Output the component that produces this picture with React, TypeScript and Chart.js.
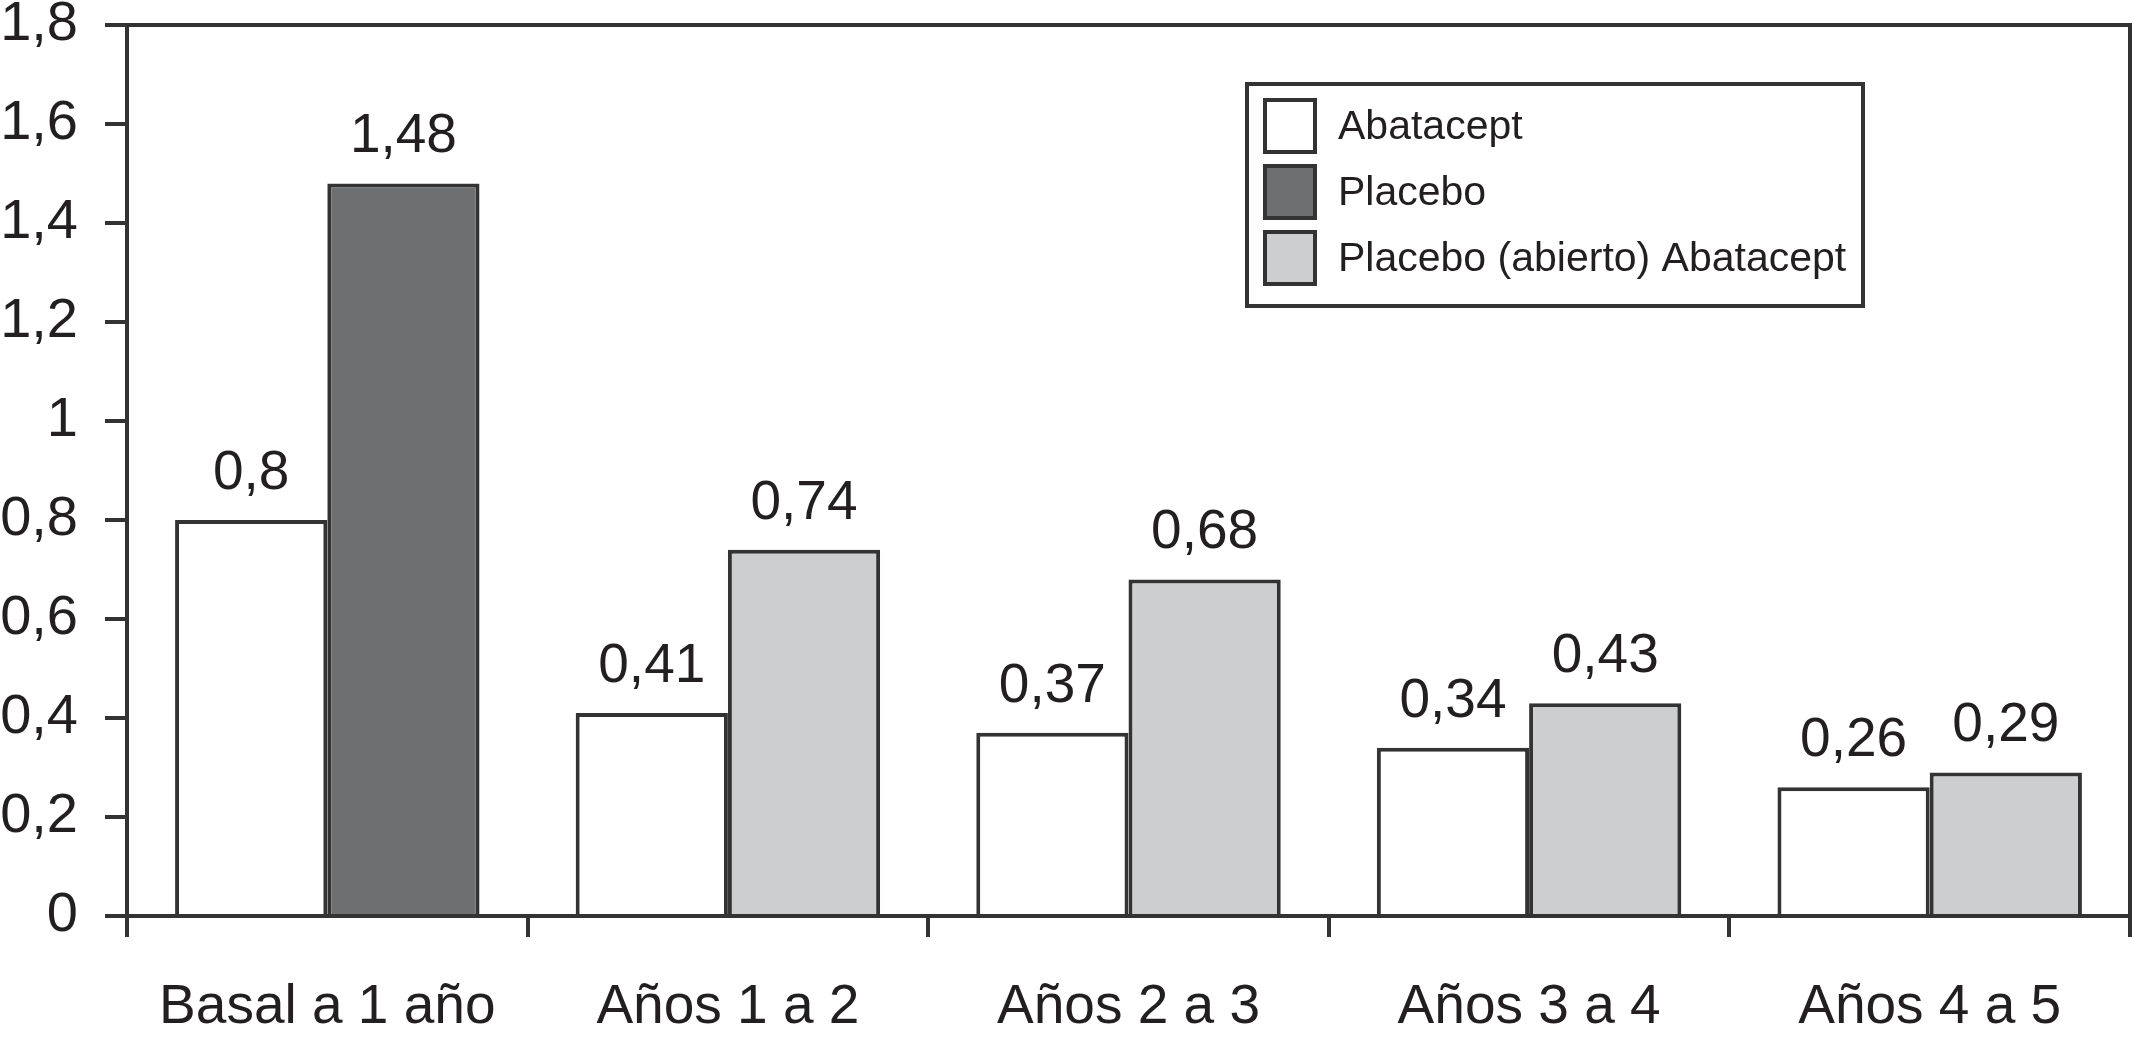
import React, { useEffect, useRef } from "react";
import { Chart, registerables } from "chart.js";

Chart.register(...registerables);

const categories = ["Basal a 1 año", "Años 1 a 2", "Años 2 a 3", "Años 3 a 4", "Años 4 a 5"];
const abatacept = [0.8, 0.41, 0.37, 0.34, 0.26];
const placebo = [1.48, null, null, null, null];
const placeboOpen = [null, 0.74, 0.68, 0.43, 0.29];
const seriesLabels = ["Abatacept", "Placebo", "Placebo (abierto) Abatacept"];
const yTicks = [0, 0.2, 0.4, 0.6, 0.8, 1, 1.2, 1.4, 1.6, 1.8];

const INK = "#231f20";
const LINE = "#333333";
const LW = 4;
const FONT = "'Liberation Sans', Arial, Helvetica, sans-serif";
const fmt = (v: number) => Number(v.toFixed(2)).toString().replace(".", ",");

const framePlugin = {
  id: "frame",
  afterDraw(chart: any) {
    const { ctx, chartArea } = chart;
    ctx.save();
    ctx.strokeStyle = LINE;
    ctx.lineWidth = LW;
    ctx.beginPath();
    ctx.moveTo(chartArea.left, chartArea.top);
    ctx.lineTo(chartArea.right, chartArea.top);
    ctx.lineTo(chartArea.right, chartArea.bottom);
    ctx.stroke();
    ctx.restore();
  },
};

const valueLabelPlugin = {
  id: "valueLabels",
  afterDatasetsDraw(chart: any) {
    const { ctx } = chart;
    ctx.save();
    ctx.fillStyle = INK;
    ctx.font = `55px ${FONT}`;
    ctx.textAlign = "center";
    ctx.textBaseline = "alphabetic";
    chart.data.datasets.forEach((ds: any, di: number) => {
      const meta = chart.getDatasetMeta(di);
      meta.data.forEach((bar: any, i: number) => {
        const v = ds.data[i];
        if (v === null || v === undefined) return;
        ctx.fillText(fmt(v), bar.x, bar.y - 31);
      });
    });
    ctx.restore();
  },
};

const legendPlugin = {
  id: "boxLegend",
  afterDraw(chart: any) {
    const { ctx } = chart;
    ctx.save();
    ctx.strokeStyle = LINE;
    ctx.lineWidth = LW;
    ctx.fillStyle = "#ffffff";
    ctx.fillRect(1247, 84, 616, 222);
    ctx.strokeRect(1247, 84, 616, 222);
    const rowsY = [126, 192, 258];
    chart.data.datasets.forEach((ds: any, i: number) => {
      const y = rowsY[i];
      ctx.fillStyle = ds.backgroundColor;
      ctx.fillRect(1265, y - 26, 50, 52);
      ctx.lineWidth = LW;
      ctx.strokeStyle = LINE;
      ctx.strokeRect(1265, y - 26, 50, 52);
      ctx.fillStyle = INK;
      ctx.font = `41px ${FONT}`;
      ctx.textAlign = "left";
      ctx.textBaseline = "middle";
      ctx.fillText(ds.label, 1338, y + 2);
    });
    ctx.restore();
  },
};

export default function App() {
  const ref = useRef<HTMLCanvasElement | null>(null);
  useEffect(() => {
    document.body.style.margin = "0";
    const canvas = ref.current;
    if (!canvas) return;
    const chart = new Chart(canvas, {
      type: "bar",
      data: {
        labels: categories,
        datasets: [
          { label: seriesLabels[0], data: abatacept, backgroundColor: "#ffffff", borderColor: LINE, borderWidth: LW },
          { label: seriesLabels[1], data: placebo, backgroundColor: "#6e6f71", borderColor: LINE, borderWidth: LW },
          { label: seriesLabels[2], data: placeboOpen, backgroundColor: "#cdcecf", borderColor: LINE, borderWidth: LW },
        ] as any,
      },
      options: {
        animation: false,
        responsive: false,
        devicePixelRatio: 1,
        skipNull: true,
        datasets: { bar: { categoryPercentage: 0.76, barPercentage: 1, skipNull: true } as any },
        layout: { padding: { top: 25, right: 4, bottom: 0, left: 0 } },
        plugins: { legend: { display: false }, tooltip: { enabled: false } },
        scales: {
          x: {
            afterFit: (axis: any) => {
              axis.height = 133;
              axis.paddingLeft = 0;
              axis.paddingRight = 0;
            },
            grid: { offset: true, drawOnChartArea: false, drawTicks: true, tickLength: 21, color: LINE, lineWidth: LW },
            border: { display: true, color: LINE, width: LW },
            ticks: { color: INK, font: { size: 55, family: FONT }, padding: 38, maxRotation: 0 },
          },
          y: {
            min: 0,
            max: 1.8,
            afterBuildTicks: (axis: any) => {
              axis.ticks = yTicks.map((v) => ({ value: v }));
            },
            afterFit: (axis: any) => {
              axis.width = 127;
              axis.paddingTop = 0;
              axis.paddingBottom = 0;
            },
            grid: { drawOnChartArea: false, drawTicks: true, tickLength: 22, color: LINE, lineWidth: LW },
            border: { display: true, color: LINE, width: LW },
            ticks: {
              color: INK,
              font: { size: 56, family: FONT },
              padding: 27,
              callback: (v: any) => fmt(Number(v)),
            },
          },
        },
      } as any,
      plugins: [framePlugin, valueLabelPlugin, legendPlugin],
    });
    return () => chart.destroy();
  }, []);
  return (
    <div style={{ width: 2134, height: 1049, background: "#fff" }}>
      <canvas ref={ref} width={2134} height={1049} style={{ display: "block" }} />
    </div>
  );
}
